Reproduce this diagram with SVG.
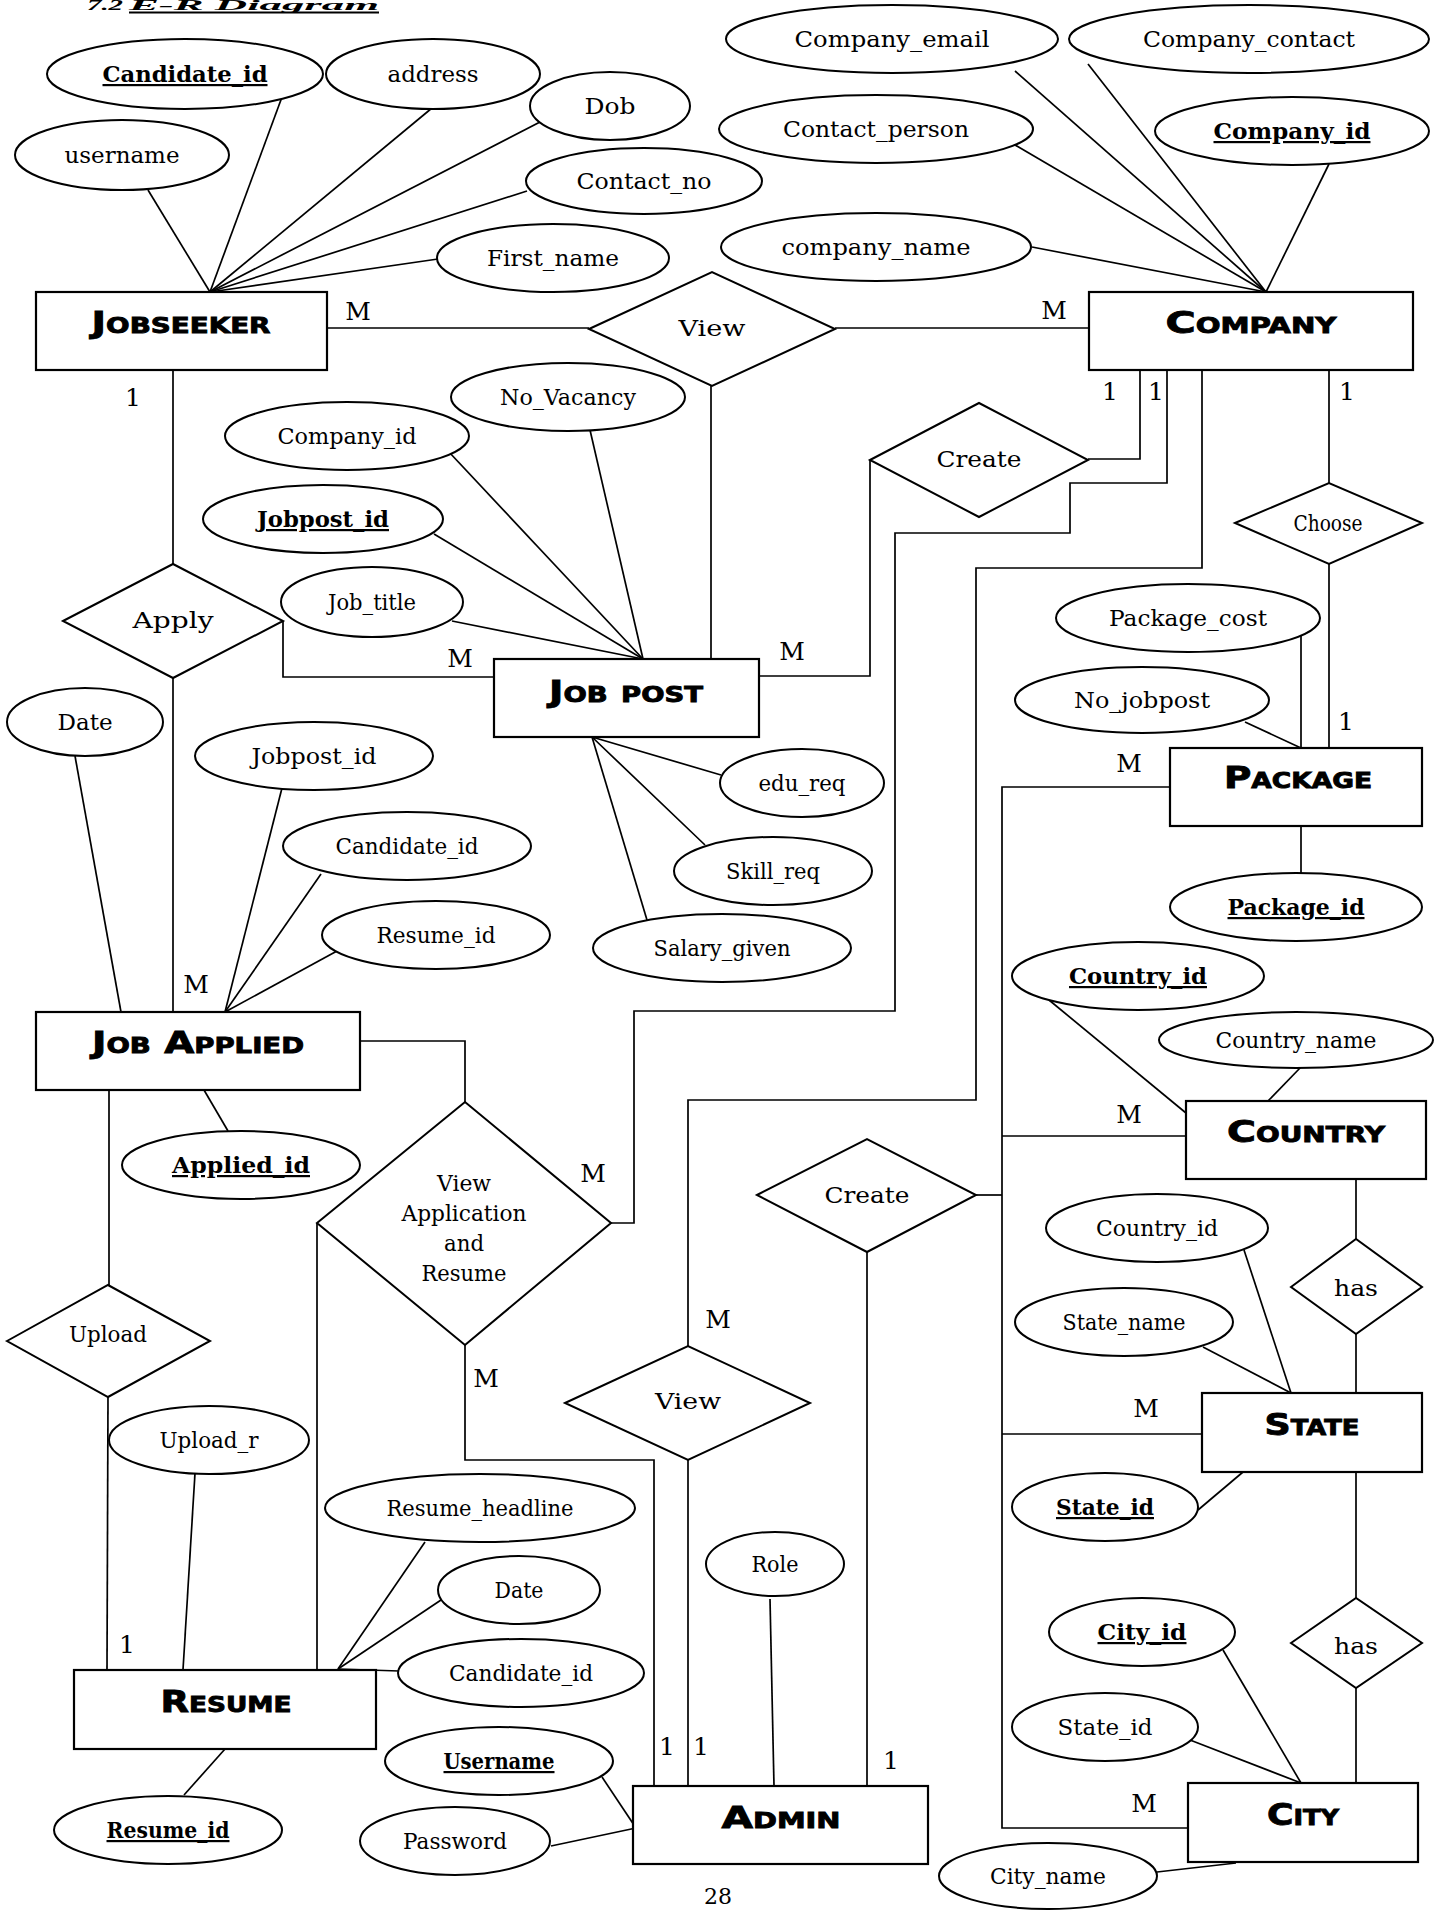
<svg xmlns="http://www.w3.org/2000/svg" width="1442" height="1910" viewBox="0 0 1442 1910">
<style>
.bg{fill:#fff}
.e{fill:#fff;stroke:#000;stroke-width:2}
.r{fill:#fff;stroke:#000;stroke-width:2.2}
.d{fill:#fff;stroke:#000;stroke-width:2}
.ln{fill:none;stroke:#000;stroke-width:1.7}
.t{font-family:"DejaVu Serif",serif;font-size:22px;text-anchor:middle;fill:#000}
.k{font-weight:bold;text-decoration:underline}
.n{font-family:"DejaVu Sans",sans-serif;font-weight:bold;font-variant:small-caps;text-anchor:middle;font-size:31px;fill:#000;stroke:#000;stroke-width:0.9}
.c{font-family:"DejaVu Serif",serif;font-size:25px;text-anchor:middle;fill:#000}
.ti{font-family:"Liberation Serif",serif;font-size:15px;font-weight:bold;font-style:italic;fill:#000}
</style>
<rect class="bg" x="0" y="0" width="1442" height="1910"/>
<g id="title">
<text class="ti" x="87" y="10" textLength="36" lengthAdjust="spacingAndGlyphs">7.2</text>
<text class="ti" x="129" y="10" textLength="250" lengthAdjust="spacingAndGlyphs">E-R Diagram</text>
<line x1="129" y1="12.5" x2="379" y2="12.5" stroke="#000" stroke-width="2"/>
</g>
<g id="connectors">
<polyline class="ln" points="148,190 210,292"/>
<polyline class="ln" points="282,97 210,292"/>
<polyline class="ln" points="432,108 210,292"/>
<polyline class="ln" points="540,122 210,292"/>
<polyline class="ln" points="527,191 210,292"/>
<polyline class="ln" points="438,259 210,292"/>
<polyline class="ln" points="327,328 589,328"/>
<polyline class="ln" points="835,328 1089,328"/>
<polyline class="ln" points="711,386 711,659"/>
<polyline class="ln" points="1015,71 1266,292"/>
<polyline class="ln" points="1088,64 1266,292"/>
<polyline class="ln" points="1015,145 1266,292"/>
<polyline class="ln" points="1032,247 1266,292"/>
<polyline class="ln" points="1329,164 1266,292"/>
<polyline class="ln" points="173,370 173,564"/>
<polyline class="ln" points="173,678 173,1012"/>
<polyline class="ln" points="283,621 283,677 494,677"/>
<polyline class="ln" points="449,452 643,659"/>
<polyline class="ln" points="590,430 643,659"/>
<polyline class="ln" points="434,534 643,659"/>
<polyline class="ln" points="452,621 643,659"/>
<polyline class="ln" points="721,775 592,737 705,845"/>
<polyline class="ln" points="592,737 647,920"/>
<polyline class="ln" points="759,676 870,676 870,460"/>
<polyline class="ln" points="1088,459 1140,459 1140,370"/>
<polyline class="ln" points="1167,370 1167,483 1070,483 1070,533 895,533 895,1011 634,1011 634,1223 611,1223"/>
<polyline class="ln" points="1202,370 1202,568 976,568 976,1100 688,1100 688,1346"/>
<polyline class="ln" points="1329,370 1329,483"/>
<polyline class="ln" points="1329,564 1329,748"/>
<polyline class="ln" points="1301,636 1301,748"/>
<polyline class="ln" points="1245,722 1301,748"/>
<polyline class="ln" points="1301,826 1301,873"/>
<polyline class="ln" points="1170,787 1002,787 1002,1828 1188,1828"/>
<polyline class="ln" points="1002,1136 1186,1136"/>
<polyline class="ln" points="1002,1434 1202,1434"/>
<polyline class="ln" points="976,1195 1002,1195"/>
<polyline class="ln" points="867,1252 867,1786"/>
<polyline class="ln" points="1049,1000 1186,1113"/>
<polyline class="ln" points="1301,1067 1268,1101"/>
<polyline class="ln" points="1356,1179 1356,1239"/>
<polyline class="ln" points="1356,1334 1356,1393"/>
<polyline class="ln" points="1244,1250 1291,1393"/>
<polyline class="ln" points="1203,1347 1291,1393"/>
<polyline class="ln" points="1198,1510 1243,1472"/>
<polyline class="ln" points="1356,1472 1356,1598"/>
<polyline class="ln" points="1356,1688 1356,1783"/>
<polyline class="ln" points="1223,1650 1301,1783"/>
<polyline class="ln" points="1190,1740 1301,1783"/>
<polyline class="ln" points="1157,1872 1236,1863"/>
<polyline class="ln" points="75,756 121,1012"/>
<polyline class="ln" points="282,788 225,1012"/>
<polyline class="ln" points="321,874 225,1012"/>
<polyline class="ln" points="337,951 225,1012"/>
<polyline class="ln" points="204,1090 228,1131"/>
<polyline class="ln" points="360,1041 465,1041 465,1102"/>
<polyline class="ln" points="109,1090 109,1285"/>
<polyline class="ln" points="108,1397 107,1670"/>
<polyline class="ln" points="195,1473 183,1670"/>
<polyline class="ln" points="317,1223 317,1670"/>
<polyline class="ln" points="465,1345 465,1460 654,1460 654,1786"/>
<polyline class="ln" points="688,1460 688,1786"/>
<polyline class="ln" points="425,1542 338,1669"/>
<polyline class="ln" points="441,1600 338,1669"/>
<polyline class="ln" points="399,1671 338,1669"/>
<polyline class="ln" points="225,1749 184,1795"/>
<polyline class="ln" points="602,1777 636,1828"/>
<polyline class="ln" points="551,1846 636,1828"/>
<polyline class="ln" points="770,1599 774,1786"/>
</g>
<g id="cardinalities" class="c">
<text x="358" y="320">M</text>
<text x="1054" y="319">M</text>
<text x="133" y="406">1</text>
<text x="1110" y="400">1</text>
<text x="1156" y="400">1</text>
<text x="1347" y="400">1</text>
<text x="460" y="667">M</text>
<text x="792" y="660">M</text>
<text x="1346" y="730">1</text>
<text x="1129" y="772">M</text>
<text x="196" y="993">M</text>
<text x="593" y="1182">M</text>
<text x="1129" y="1123">M</text>
<text x="718" y="1328">M</text>
<text x="486" y="1387">M</text>
<text x="1146" y="1417">M</text>
<text x="127" y="1653">1</text>
<text x="667" y="1755">1</text>
<text x="701" y="1755">1</text>
<text x="891" y="1769">1</text>
<text x="1144" y="1812">M</text>
</g>
<g id="jobseeker"><rect class="r" x="36" y="292" width="291" height="78"/><text class="n" x="181" y="333" textLength="179" lengthAdjust="spacingAndGlyphs">Jobseeker</text></g>
<g id="company"><rect class="r" x="1089" y="292" width="324" height="78"/><text class="n" x="1251" y="333" textLength="171" lengthAdjust="spacingAndGlyphs">Company</text></g>
<g id="jobpost"><rect class="r" x="494" y="659" width="265" height="78"/><text class="n" x="626" y="702" textLength="154" lengthAdjust="spacingAndGlyphs">Job post</text></g>
<g id="package"><rect class="r" x="1170" y="748" width="252" height="78"/><text class="n" x="1298" y="788" textLength="148" lengthAdjust="spacingAndGlyphs">Package</text></g>
<g id="jobapplied"><rect class="r" x="36" y="1012" width="324" height="78"/><text class="n" x="198" y="1053" textLength="212" lengthAdjust="spacingAndGlyphs">Job Applied</text></g>
<g id="country"><rect class="r" x="1186" y="1101" width="240" height="78"/><text class="n" x="1306" y="1142" textLength="158" lengthAdjust="spacingAndGlyphs">Country</text></g>
<g id="state"><rect class="r" x="1202" y="1393" width="220" height="79"/><text class="n" x="1312" y="1435" textLength="95" lengthAdjust="spacingAndGlyphs">State</text></g>
<g id="resume"><rect class="r" x="74" y="1670" width="302" height="79"/><text class="n" x="226" y="1712" textLength="131" lengthAdjust="spacingAndGlyphs">Resume</text></g>
<g id="admin"><rect class="r" x="633" y="1786" width="295" height="78"/><text class="n" x="781" y="1828" textLength="119" lengthAdjust="spacingAndGlyphs">Admin</text></g>
<g id="city"><rect class="r" x="1188" y="1783" width="230" height="79"/><text class="n" x="1303" y="1825" textLength="72" lengthAdjust="spacingAndGlyphs">City</text></g>
<g id="rel-view"><polygon class="d" points="589,329 712,272 835,329 712,386"/><text class="t" x="712" y="336" font-size="28" textLength="67" lengthAdjust="spacingAndGlyphs">View</text></g>
<g id="rel-create"><polygon class="d" points="870,460 979,403 1088,460 979,517"/><text class="t" x="979" y="467" font-size="27" textLength="85" lengthAdjust="spacingAndGlyphs">Create</text></g>
<g id="rel-choose"><polygon class="d" points="1235,523 1329,483 1422,523 1329,564"/><text class="t" x="1328" y="531" font-size="18" textLength="69" lengthAdjust="spacingAndGlyphs">Choose</text></g>
<g id="rel-apply"><polygon class="d" points="63,621 173,564 283,621 173,678"/><text class="t" x="173" y="628" font-size="28" textLength="81" lengthAdjust="spacingAndGlyphs">Apply</text></g>
<g id="rel-viewapp"><polygon class="d" points="317,1223 465,1102 611,1223 465,1345"/><text class="t" x="464" y="1191" font-size="22" textLength="54" lengthAdjust="spacingAndGlyphs">View</text><text class="t" x="464" y="1221" font-size="22" textLength="125" lengthAdjust="spacingAndGlyphs">Application</text><text class="t" x="464" y="1251" font-size="22" textLength="40" lengthAdjust="spacingAndGlyphs">and</text><text class="t" x="464" y="1281" font-size="22" textLength="85" lengthAdjust="spacingAndGlyphs">Resume</text></g>
<g id="rel-create2"><polygon class="d" points="757,1195 867,1139 976,1195 867,1252"/><text class="t" x="867" y="1203" font-size="27" textLength="85" lengthAdjust="spacingAndGlyphs">Create</text></g>
<g id="rel-has1"><polygon class="d" points="1291,1287 1356,1239 1422,1287 1356,1334"/><text class="t" x="1356" y="1296" font-size="27" textLength="44" lengthAdjust="spacingAndGlyphs">has</text></g>
<g id="rel-upload"><polygon class="d" points="7,1341 108,1285 210,1341 108,1397"/><text class="t" x="108" y="1342" font-size="22" textLength="78" lengthAdjust="spacingAndGlyphs">Upload</text></g>
<g id="rel-view2"><polygon class="d" points="565,1403 688,1346 810,1403 688,1460"/><text class="t" x="688" y="1409" font-size="28" textLength="66" lengthAdjust="spacingAndGlyphs">View</text></g>
<g id="rel-has2"><polygon class="d" points="1291,1643 1356,1598 1422,1643 1356,1688"/><text class="t" x="1356" y="1654" font-size="27" textLength="44" lengthAdjust="spacingAndGlyphs">has</text></g>
<g id="a-candidate_id"><ellipse class="e" cx="185" cy="74" rx="138" ry="35"/><text class="t k" x="185" y="82" textLength="165" lengthAdjust="spacingAndGlyphs">Candidate_id</text></g>
<g id="a-address"><ellipse class="e" cx="433" cy="74" rx="107" ry="35"/><text class="t" x="433" y="82" font-size="24" textLength="91" lengthAdjust="spacingAndGlyphs">address</text></g>
<g id="a-dob"><ellipse class="e" cx="610" cy="106" rx="80" ry="34"/><text class="t" x="610" y="114" font-size="24" textLength="51" lengthAdjust="spacingAndGlyphs">Dob</text></g>
<g id="a-username"><ellipse class="e" cx="122" cy="155" rx="107" ry="35"/><text class="t" x="122" y="163" font-size="23" textLength="115" lengthAdjust="spacingAndGlyphs">username</text></g>
<g id="a-contact_no"><ellipse class="e" cx="644" cy="181" rx="118" ry="33"/><text class="t" x="644" y="189" font-size="24" textLength="135" lengthAdjust="spacingAndGlyphs">Contact_no</text></g>
<g id="a-first_name"><ellipse class="e" cx="553" cy="258" rx="116" ry="34"/><text class="t" x="553" y="266" font-size="24" textLength="132" lengthAdjust="spacingAndGlyphs">First_name</text></g>
<g id="a-company_email"><ellipse class="e" cx="892" cy="39" rx="166" ry="34"/><text class="t" x="892" y="47" font-size="24" textLength="195" lengthAdjust="spacingAndGlyphs">Company_email</text></g>
<g id="a-company_contact"><ellipse class="e" cx="1249" cy="39" rx="180" ry="34"/><text class="t" x="1249" y="47" font-size="24" textLength="212" lengthAdjust="spacingAndGlyphs">Company_contact</text></g>
<g id="a-contact_person"><ellipse class="e" cx="876" cy="129" rx="157" ry="34"/><text class="t" x="876" y="137" font-size="24" textLength="186" lengthAdjust="spacingAndGlyphs">Contact_person</text></g>
<g id="a-company_id_key"><ellipse class="e" cx="1292" cy="131" rx="137" ry="34"/><text class="t k" x="1292" y="139" font-size="22.5" textLength="157" lengthAdjust="spacingAndGlyphs">Company_id</text></g>
<g id="a-company_name"><ellipse class="e" cx="876" cy="247" rx="155" ry="34"/><text class="t" x="876" y="255" font-size="24" textLength="189" lengthAdjust="spacingAndGlyphs">company_name</text></g>
<g id="a-jp_company_id"><ellipse class="e" cx="347" cy="436" rx="122" ry="34"/><text class="t" x="347" y="444" font-size="22.5" textLength="139" lengthAdjust="spacingAndGlyphs">Company_id</text></g>
<g id="a-no_vacancy"><ellipse class="e" cx="568" cy="397" rx="117" ry="34"/><text class="t" x="568" y="405" font-size="22.5" textLength="136" lengthAdjust="spacingAndGlyphs">No_Vacancy</text></g>
<g id="a-jobpost_id_key"><ellipse class="e" cx="323" cy="519" rx="120" ry="34"/><text class="t k" x="323" y="527" textLength="132" lengthAdjust="spacingAndGlyphs">Jobpost_id</text></g>
<g id="a-job_title"><ellipse class="e" cx="372" cy="602" rx="91" ry="35"/><text class="t" x="372" y="610" font-size="22" textLength="88" lengthAdjust="spacingAndGlyphs">Job_title</text></g>
<g id="a-ja_date"><ellipse class="e" cx="85" cy="722" rx="78" ry="34"/><text class="t" x="85" y="730" font-size="23" textLength="55" lengthAdjust="spacingAndGlyphs">Date</text></g>
<g id="a-ja_jobpost_id"><ellipse class="e" cx="314" cy="756" rx="119" ry="34"/><text class="t" x="314" y="764" font-size="23" textLength="125" lengthAdjust="spacingAndGlyphs">Jobpost_id</text></g>
<g id="a-ja_candidate_id"><ellipse class="e" cx="407" cy="846" rx="124" ry="34"/><text class="t" x="407" y="854" font-size="22" textLength="143" lengthAdjust="spacingAndGlyphs">Candidate_id</text></g>
<g id="a-ja_resume_id"><ellipse class="e" cx="436" cy="935" rx="114" ry="34"/><text class="t" x="436" y="943" font-size="22" textLength="119" lengthAdjust="spacingAndGlyphs">Resume_id</text></g>
<g id="a-edu_req"><ellipse class="e" cx="802" cy="783" rx="82" ry="34"/><text class="t" x="802" y="791" font-size="22" textLength="87" lengthAdjust="spacingAndGlyphs">edu_req</text></g>
<g id="a-skill_req"><ellipse class="e" cx="773" cy="871" rx="99" ry="34"/><text class="t" x="773" y="879" font-size="22" textLength="94" lengthAdjust="spacingAndGlyphs">Skill_req</text></g>
<g id="a-salary_given"><ellipse class="e" cx="722" cy="948" rx="129" ry="34"/><text class="t" x="722" y="956" font-size="22" textLength="137" lengthAdjust="spacingAndGlyphs">Salary_given</text></g>
<g id="a-package_cost"><ellipse class="e" cx="1188" cy="618" rx="132" ry="34"/><text class="t" x="1188" y="626" font-size="23" textLength="158" lengthAdjust="spacingAndGlyphs">Package_cost</text></g>
<g id="a-no_jobpost"><ellipse class="e" cx="1142" cy="700" rx="127" ry="33"/><text class="t" x="1142" y="708" font-size="23.5" textLength="136" lengthAdjust="spacingAndGlyphs">No_jobpost</text></g>
<g id="a-package_id"><ellipse class="e" cx="1296" cy="907" rx="126" ry="34"/><text class="t k" x="1296" y="915" font-size="22" textLength="137" lengthAdjust="spacingAndGlyphs">Package_id</text></g>
<g id="a-country_id_key"><ellipse class="e" cx="1138" cy="976" rx="126" ry="34"/><text class="t k" x="1138" y="984" textLength="138" lengthAdjust="spacingAndGlyphs">Country_id</text></g>
<g id="a-country_name"><ellipse class="e" cx="1296" cy="1040" rx="137" ry="28"/><text class="t" x="1296" y="1048" textLength="161" lengthAdjust="spacingAndGlyphs">Country_name</text></g>
<g id="a-applied_id"><ellipse class="e" cx="241" cy="1165" rx="119" ry="34"/><text class="t k" x="241" y="1173" font-size="22.5" textLength="138" lengthAdjust="spacingAndGlyphs">Applied_id</text></g>
<g id="a-st_country_id"><ellipse class="e" cx="1157" cy="1228" rx="111" ry="34"/><text class="t" x="1157" y="1236" textLength="122" lengthAdjust="spacingAndGlyphs">Country_id</text></g>
<g id="a-state_name"><ellipse class="e" cx="1124" cy="1322" rx="109" ry="34"/><text class="t" x="1124" y="1330" font-size="21.5" textLength="123" lengthAdjust="spacingAndGlyphs">State_name</text></g>
<g id="a-state_id_key"><ellipse class="e" cx="1105" cy="1507" rx="93" ry="34"/><text class="t k" x="1105" y="1515" font-size="22" textLength="98" lengthAdjust="spacingAndGlyphs">State_id</text></g>
<g id="a-upload_r"><ellipse class="e" cx="209" cy="1440" rx="100" ry="34"/><text class="t" x="209" y="1448" font-size="22" textLength="99" lengthAdjust="spacingAndGlyphs">Upload_r</text></g>
<g id="a-resume_headline"><ellipse class="e" cx="480" cy="1508" rx="155" ry="34"/><text class="t" x="480" y="1516" font-size="22" textLength="187" lengthAdjust="spacingAndGlyphs">Resume_headline</text></g>
<g id="a-r_date"><ellipse class="e" cx="519" cy="1590" rx="81" ry="34"/><text class="t" x="519" y="1598" font-size="21.5" textLength="49" lengthAdjust="spacingAndGlyphs">Date</text></g>
<g id="a-r_candidate_id"><ellipse class="e" cx="521" cy="1673" rx="123" ry="34"/><text class="t" x="521" y="1681" font-size="22" textLength="144" lengthAdjust="spacingAndGlyphs">Candidate_id</text></g>
<g id="a-role"><ellipse class="e" cx="775" cy="1564" rx="69" ry="32"/><text class="t" x="775" y="1572" font-size="21.5" textLength="47" lengthAdjust="spacingAndGlyphs">Role</text></g>
<g id="a-city_id"><ellipse class="e" cx="1142" cy="1632" rx="93" ry="34"/><text class="t k" x="1142" y="1640" font-size="22.5" textLength="89" lengthAdjust="spacingAndGlyphs">City_id</text></g>
<g id="a-c_state_id"><ellipse class="e" cx="1105" cy="1727" rx="93" ry="34"/><text class="t" x="1105" y="1735" font-size="23" textLength="95" lengthAdjust="spacingAndGlyphs">State_id</text></g>
<g id="a-resume_id_key"><ellipse class="e" cx="168" cy="1830" rx="114" ry="34"/><text class="t k" x="168" y="1838" font-size="21" textLength="123" lengthAdjust="spacingAndGlyphs">Resume_id</text></g>
<g id="a-username_key"><ellipse class="e" cx="499" cy="1761" rx="114" ry="34"/><text class="t k" x="499" y="1769" font-size="21" textLength="111" lengthAdjust="spacingAndGlyphs">Username</text></g>
<g id="a-password"><ellipse class="e" cx="455" cy="1841" rx="95" ry="34"/><text class="t" x="455" y="1849" font-size="22" textLength="104" lengthAdjust="spacingAndGlyphs">Password</text></g>
<g id="a-city_name"><ellipse class="e" cx="1048" cy="1876" rx="109" ry="33"/><text class="t" x="1048" y="1884" textLength="116" lengthAdjust="spacingAndGlyphs">City_name</text></g>
<text id="page-number" class="t" x="718" y="1904" font-size="15">28</text>
</svg>
